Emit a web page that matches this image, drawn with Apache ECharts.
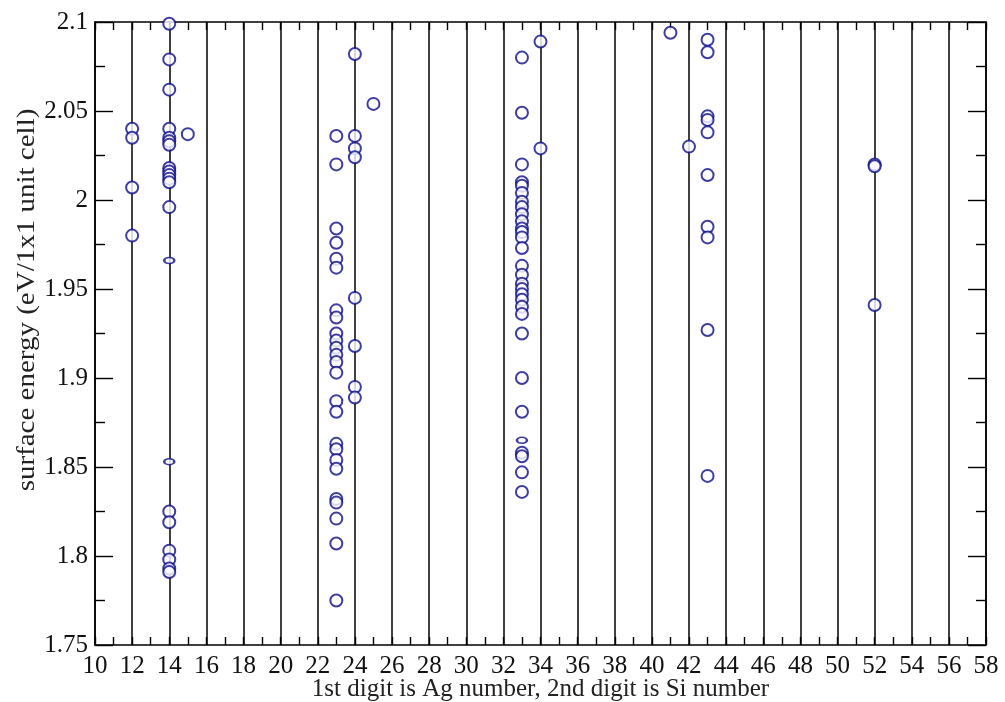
<!DOCTYPE html>
<html>
<head>
<meta charset="utf-8">
<script src="https://cdn.jsdelivr.net/npm/echarts@6/dist/echarts.min.js"></script>
<style>
  html, body { margin: 0; padding: 0; background: #fff; }
  #chart { width: 1005px; height: 702px; }
</style>
</head>
<body>
<div id="chart"></div>
<script>
// Surface energies (eV per 1x1 unit cell) grouped by composition code
// (first digit = Ag count, second digit = Si count).
const codes = [12, 14, 15, 23, 24, 25, 33, 34, 41, 42, 43, 52];
const e12 = [2.040, 2.035, 2.007, 1.980];
const e14 = [2.099, 2.079, 2.062, 2.040, 2.035, 2.033, 2.031, 2.018, 2.016, 2.014, 2.012, 2.010, 1.996,
             1.825, 1.819, 1.803, 1.798, 1.793, 1.791];
const e15 = [2.037];
const e23 = [2.036, 2.020, 1.984, 1.976, 1.967, 1.962, 1.938, 1.934, 1.925, 1.921, 1.917, 1.913, 1.909,
             1.903, 1.887, 1.881, 1.863, 1.860, 1.854, 1.849, 1.832, 1.830, 1.821, 1.807, 1.775];
const e24 = [2.082, 2.036, 2.029, 2.024, 1.945, 1.918, 1.895, 1.889];
const e25 = [2.054];
const e33 = [2.080, 2.049, 2.020, 2.010, 2.008, 2.004, 1.999, 1.996, 1.992, 1.988, 1.984, 1.982, 1.979,
             1.973, 1.963, 1.958, 1.953, 1.950, 1.947, 1.944, 1.940, 1.936, 1.925, 1.900, 1.881,
             1.858, 1.856, 1.847, 1.836];
const e34 = [2.089, 2.029];
const e41 = [2.094];
const e42 = [2.030];
const e43 = [2.090, 2.083, 2.047, 2.045, 2.038, 2.014, 1.985, 1.979, 1.927, 1.845];
const e52 = [2.020, 2.019, 1.941];
// structures plotted with a smaller marker
const small14 = [1.966, 1.853];
const small33 = [1.865];

const xTicks = [10, 58, 2];       // min, max, step of the composition axis
const yTicks = [1.75, 2.1, 0.05]; // min, max, step of the energy axis
const xTitle = '1st digit is Ag number, 2nd digit is Si number';
const yTitle = 'surface energy (eV/1x1 unit cell)';

const groups = [e12, e14, e15, e23, e24, e25, e33, e34, e41, e42, e43, e52];
const mainPoints = [];
groups.forEach((g, i) => g.forEach(v => mainPoints.push([codes[i], v])));
const smallPoints = small14.map(v => [14, v]).concat(small33.map(v => [33, v]));

const ink = '#000';
const markColor = '#0c0c88';
const serif = '"Liberation Serif", "DejaVu Serif", serif';

function xAxisDef(pos, labels) {
  return {
    type: 'value', position: pos,
    min: xTicks[0], max: xTicks[1], interval: xTicks[2],
    axisLine: { show: true, onZero: false, lineStyle: { color: ink, width: 1.6 } },
    axisTick: { show: true, inside: true, length: 8, lineStyle: { color: ink, width: 1.4 } },
    minorTick: { show: true, splitNumber: 2, length: 8, lineStyle: { color: ink, width: 1.4 } },
    splitLine: { show: labels, lineStyle: { color: ink, width: 1.5 } },
    axisLabel: { show: labels, color: '#111', fontFamily: serif, fontSize: 25, margin: 9 },
    name: labels ? xTitle : '',
    nameLocation: 'middle', nameGap: 32, nameMoveOverlap: false,
    nameTextStyle: { color: '#222', fontFamily: serif, fontSize: 25 }
  };
}
function yAxisDef(pos, labels) {
  return {
    type: 'value', position: pos,
    min: yTicks[0], max: yTicks[1], interval: yTicks[2],
    axisLine: { show: true, onZero: false, lineStyle: { color: ink, width: 1.6 } },
    axisTick: { show: true, inside: true, length: 18, lineStyle: { color: ink, width: 1.4 } },
    minorTick: { show: true, splitNumber: 2, length: 10, lineStyle: { color: ink, width: 1.4 } },
    splitLine: { show: false },
    axisLabel: { show: labels, color: '#111', fontFamily: serif, fontSize: 25, margin: 7,
                 formatter: v => String(+v.toFixed(2)) }
  };
}

const chart = echarts.init(document.getElementById('chart'), null, { renderer: 'canvas' });
chart.setOption({
  backgroundColor: '#fff',
  animation: false,
  grid: { left: 95, right: 19, top: 22, bottom: 57, containLabel: false, outerBoundsMode: 'none' },
  xAxis: [xAxisDef('bottom', true), xAxisDef('top', false)],
  yAxis: [yAxisDef('left', true), yAxisDef('right', false)],
  // vertical axis title, set in a tall narrow serif
  graphic: [{
    type: 'text', x: 27, y: 300, rotation: Math.PI / 2, scaleX: 1.16,
    style: { text: yTitle, fill: '#222', font: '25px ' + serif,
             textAlign: 'center', textVerticalAlign: 'middle' }
  }],
  series: [
    {
      type: 'scatter', xAxisIndex: 0, yAxisIndex: 0,
      data: mainPoints, symbol: 'emptyCircle', symbolSize: 12,
      itemStyle: { color: markColor, borderColor: markColor, borderWidth: 1.9 }
    },
    {
      type: 'scatter', xAxisIndex: 0, yAxisIndex: 0,
      data: smallPoints, symbol: 'emptyCircle', symbolSize: [10, 6],
      itemStyle: { color: markColor, borderColor: markColor, borderWidth: 1.6 }
    }
  ]
});
</script>
</body>
</html>
